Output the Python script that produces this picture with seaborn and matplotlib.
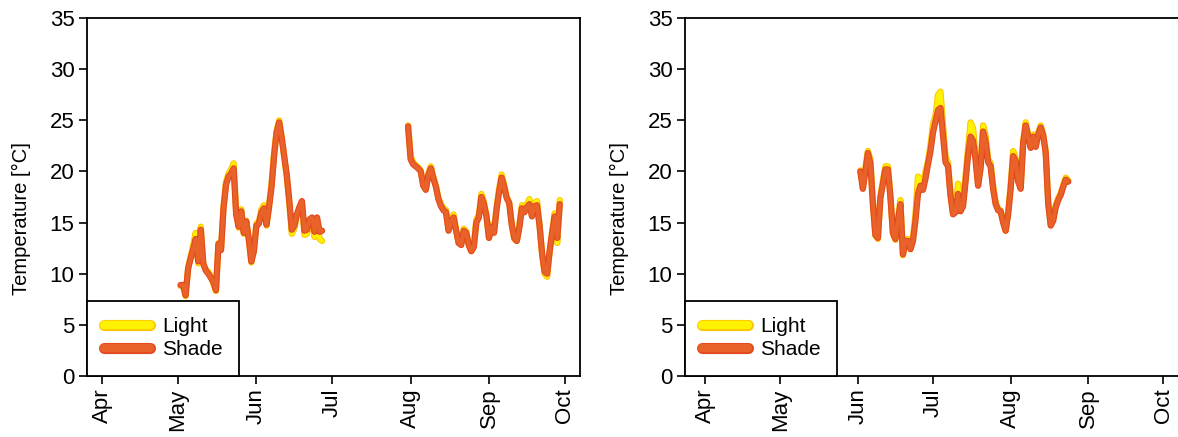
import numpy as np
import pandas as pd
import matplotlib
matplotlib.use("Agg")
import matplotlib.pyplot as plt
import matplotlib.patheffects as pe
from matplotlib.lines import Line2D
import matplotlib.dates as mdates
import seaborn as sns

# ---------------- data ----------------
# Left site, first segment: daily values starting 2019-05-02
left1_start = "2019-05-02"
left1_shade = [8.9, 8.9, 7.9, 10.5, 11.5, 12.4, 13.4, 11.2, 14.3, 11.0,
               10.3, 10.0, 9.6, 9.2, 8.4, 12.9, 12.3, 16.4, 18.7, 19.5,
               19.8, 20.3, 15.8, 14.6, 16.1, 14.0, 15.1, 13.4, 11.2, 12.2,
               14.7, 14.9, 16.0, 16.4, 14.8, 16.5, 18.5, 21.5, 23.8, 24.8,
               23.3, 21.5, 19.7, 17.2, 14.3, 14.7, 15.8, 16.5, 17.1, 14.2,
               14.3, 15.3, 15.5, 14.1, 15.5, 14.1, 14.2]
left1_light = [8.8, 8.8, 7.8, 10.6, 11.7, 12.8, 14.0, 11.0, 14.6, 10.9,
               10.4, 10.2, 9.7, 9.0, 8.3, 13.0, 12.4, 16.6, 19.0, 19.8,
               20.2, 20.8, 16.0, 14.5, 16.3, 13.9, 15.2, 13.3, 11.1, 12.3,
               14.9, 15.1, 16.3, 16.7, 14.7, 16.7, 18.8, 21.8, 24.0, 25.0,
               23.4, 21.4, 19.5, 16.9, 13.9, 14.4, 15.6, 16.4, 17.0, 13.8,
               13.9, 15.1, 15.2, 13.6, 15.0, 13.4, 13.2]

# Left site, second segment: daily values starting 2019-07-31
left2_start = "2019-07-31"
left2_shade = [24.4, 21.2, 20.7, 20.5, 20.3, 20.0, 18.6, 18.2, 19.6, 20.3,
               19.3, 18.5, 17.3, 16.6, 16.2, 16.0, 14.2, 15.1, 15.5, 14.2,
               13.0, 12.8, 14.2, 14.0, 12.8, 12.2, 12.6, 15.0, 15.5, 17.5,
               16.8, 15.6, 13.5, 14.6, 14.0, 16.3, 18.0, 19.4, 18.5, 17.4,
               16.9, 14.8, 13.5, 13.2, 14.5, 16.4, 16.0, 16.5, 16.8, 15.6,
               16.6, 16.7, 14.7, 12.0, 10.2, 10.0, 12.2, 14.0, 15.6, 13.5,
               16.8]
left2_light = [24.5, 21.5, 20.9, 20.6, 20.4, 20.1, 18.7, 18.3, 19.8, 20.5,
               19.5, 18.6, 17.4, 16.8, 16.4, 16.2, 14.3, 15.3, 15.8, 14.3,
               13.0, 12.9, 14.4, 14.1, 12.8, 12.2, 12.8, 15.3, 15.8, 17.8,
               17.0, 15.7, 13.5, 14.8, 14.1, 16.5, 18.3, 19.7, 18.7, 17.5,
               17.0, 14.8, 13.4, 13.2, 14.7, 16.7, 16.2, 16.8, 17.3, 15.7,
               16.9, 17.1, 14.8, 11.9, 10.0, 9.7, 12.2, 14.2, 15.9, 13.0,
               17.2]

# Right site: daily values starting 2019-06-02
right_start = "2019-06-02"
right_shade = [20.0, 18.3, 20.0, 21.8, 20.8, 16.8, 13.8, 13.5, 17.4, 18.8,
               20.2, 20.2, 17.5, 14.0, 13.4, 15.2, 16.8, 11.9, 13.2, 13.2,
               12.4, 13.2, 15.2, 17.8, 18.6, 18.2, 19.3, 20.7, 22.0, 23.8,
               24.9, 26.0, 26.2, 23.5, 20.9, 20.5, 17.6, 15.8, 16.0, 17.8,
               16.1, 16.6, 19.0, 21.6, 23.4, 23.0, 21.1, 18.6, 20.3, 23.9,
               22.9, 20.9, 20.5, 18.3, 16.8, 16.2, 16.1, 15.0, 14.2, 15.8,
               18.3, 21.5, 21.0, 19.0, 18.3, 22.8, 24.5, 23.4, 22.3, 23.4,
               22.4, 23.6, 24.3, 23.5, 21.8, 16.8, 14.7, 15.2, 16.5, 17.2,
               17.7, 18.5, 19.2, 19.0]
right_light = [20.1, 18.5, 20.3, 22.0, 21.2, 17.0, 13.7, 13.4, 17.6, 19.1,
               20.5, 20.5, 17.7, 13.9, 13.3, 15.4, 17.2, 11.8, 13.3, 13.4,
               12.4, 13.5, 15.8, 19.5, 19.2, 18.6, 20.0, 21.0, 22.6, 24.6,
               25.5, 27.5, 27.8, 24.5, 21.5, 20.8, 17.8, 15.9, 16.3, 18.8,
               16.4, 16.9, 19.6, 22.3, 24.8, 24.2, 21.6, 18.8, 20.8, 24.5,
               23.5, 21.2, 20.8, 18.6, 17.0, 16.3, 16.2, 15.1, 14.2, 16.0,
               18.7, 22.0, 21.3, 19.2, 18.4, 23.0, 24.8, 23.6, 22.4, 23.6,
               22.5, 23.8, 24.5, 23.6, 22.0, 17.0, 14.8, 15.3, 16.7, 17.4,
               17.9, 18.7, 19.4, 19.1]

month_ticks = ["2019-04-01", "2019-05-01", "2019-06-01", "2019-07-01",
               "2019-08-01", "2019-09-01", "2019-10-01"]
yticks = [0, 5, 10, 15, 20, 25, 30, 35]
series_names = ["Light", "Shade"]


def make_frame(segments):
    rows = []
    for seg_id, (start, light, shade) in enumerate(segments):
        dates = pd.date_range(start, periods=len(shade), freq="D")
        for d, v in zip(dates, light):
            rows.append({"date": d, "temp": v, "series": "Light", "seg": seg_id})
        for d, v in zip(dates, shade):
            rows.append({"date": d, "temp": v, "series": "Shade", "seg": seg_id})
    return pd.DataFrame(rows)


df_left = make_frame([(left1_start, left1_light, left1_shade),
                      (left2_start, left2_light, left2_shade)])
df_right = make_frame([(right_start, right_light, right_shade)])

# ---------------- style ----------------
sns.set_style("white")
plt.rcParams["font.family"] = ["Liberation Sans", "DejaVu Sans"]
for k in ["text.color", "axes.labelcolor", "xtick.color", "ytick.color"]:
    plt.rcParams[k] = "black"

colors = {"Light": "#FFF200", "Shade": "#E8622A"}
edges = {"Light": "#FFC400", "Shade": "#E2481E"}
lw = 3.0

fig = plt.figure(figsize=(11.78, 4.37), dpi=100)
ax1 = fig.add_axes([87 / 1178, 1 - 376 / 437, 493 / 1178, 358 / 437])
ax2 = fig.add_axes([685 / 1178, 1 - 376 / 437, 496 / 1178, 358 / 437])

xlims = [(pd.Timestamp("2019-03-26"), pd.Timestamp("2019-10-07")),
         (pd.Timestamp("2019-03-24"), pd.Timestamp("2019-10-08"))]

for ax, df, xl in [(ax1, df_left, xlims[0]), (ax2, df_right, xlims[1])]:
    for name in series_names:
        sub = df[df["series"] == name]
        sns.lineplot(data=sub, x="date", y="temp", units="seg", estimator=None,
                     color=colors[name], lw=lw, ax=ax, legend=False,
                     solid_joinstyle="round", solid_capstyle="round",
                     path_effects=[pe.Stroke(linewidth=lw + 1.5, foreground=edges[name]),
                                   pe.Normal()])
    ax.set_xlim(*xl)
    ax.set_ylim(0, 35)
    ax.set_yticks(yticks)
    ax.set_yticklabels([str(t) for t in yticks], fontsize=16)
    ax.set_xticks(pd.to_datetime(month_ticks))
    ax.xaxis.set_major_formatter(mdates.DateFormatter("%b"))
    for lab in ax.get_xticklabels():
        lab.set_rotation(90)
        lab.set_fontsize(16)
    ax.set_xlabel("")
    ax.set_ylabel("Temperature [°C]", fontsize=14.5)
    ax.yaxis.set_label_coords(-0.113, 0.44)
    ax.tick_params(axis="both", direction="out", length=6, width=1.2,
                   color="black", bottom=True, left=True, pad=3)
    for sp in ax.spines.values():
        sp.set_color("black")
        sp.set_linewidth(1.3)
        sp.set_visible(True)

    handles = [Line2D([0], [0], color=colors[n], lw=6, solid_capstyle="round",
                      path_effects=[pe.Stroke(linewidth=8, foreground=edges[n]), pe.Normal()])
               for n in series_names]
    leg = ax.legend(handles, series_names, loc="lower left", borderaxespad=0,
                    frameon=True, fancybox=False, framealpha=1, edgecolor="black",
                    fontsize=15, handlelength=2.2, handletextpad=0.6,
                    borderpad=0.8, labelspacing=0.2)
    leg.get_frame().set_linewidth(1.3)

fig.savefig("out.png", dpi=100)
